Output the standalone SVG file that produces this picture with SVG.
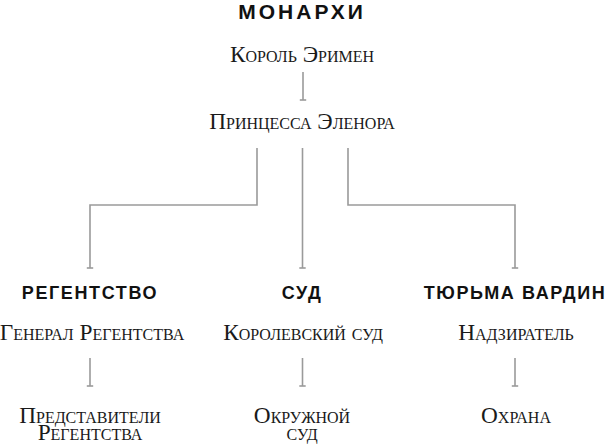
<svg xmlns="http://www.w3.org/2000/svg" width="610" height="445" viewBox="0 0 610 445">
<defs>
<style>
.h{font-family:"Liberation Sans","DejaVu Sans",sans-serif;font-weight:bold;font-size:18px;letter-spacing:1.6px;fill:#111;text-anchor:middle}
.t{font-family:"Liberation Serif","DejaVu Serif",serif;font-size:23.3px;font-variant:small-caps;fill:#1a1a1a;text-anchor:middle}
.c{fill:none;stroke:#9a9a9a;stroke-width:1.6}
</style>
<marker id="tee" viewBox="0 0 10 10" refX="5" refY="5" markerWidth="8" markerHeight="8" markerUnits="userSpaceOnUse" orient="auto">
<line x1="5" y1="1" x2="5" y2="9" stroke="#9a9a9a" stroke-width="2"/>
</marker>
</defs>
<rect width="610" height="445" fill="#fff"/>
<g id="connectors">
<path class="c" d="M303 72 V100" marker-end="url(#tee)"/>
<path class="c" d="M257 148 V205 H90 V268" marker-end="url(#tee)"/>
<path class="c" d="M302.5 148 V268" marker-end="url(#tee)"/>
<path class="c" d="M348 148 V205 H515 V268" marker-end="url(#tee)"/>
<path class="c" d="M90 358 V386" marker-end="url(#tee)"/>
<path class="c" d="M302.5 358 V386" marker-end="url(#tee)"/>
<path class="c" d="M515 358 V386" marker-end="url(#tee)"/>
</g>
<g id="monarchs"><text class="h" x="302" y="19" style="font-size:21px;letter-spacing:3px">МОНАРХИ</text></g>
<g id="king"><text class="t" x="302" y="62">Король Эримен</text></g>
<g id="princess"><text class="t" x="302" y="129">Принцесса Эленора</text></g>
<g id="regency"><text class="h" x="90" y="299">РЕГЕНТСТВО</text></g>
<g id="court"><text class="h" x="302" y="299">СУД</text></g>
<g id="prison"><text class="h" x="515" y="299">ТЮРЬМА ВАРДИН</text></g>
<g id="general"><text class="t" x="92" y="340">Генерал Регентства</text></g>
<g id="royalcourt"><text class="t" x="303" y="340">Королевский суд</text></g>
<g id="warden"><text class="t" x="516" y="340">Надзиратель</text></g>
<g id="reps"><text class="t" x="90" y="423">Представители</text><text class="t" x="90" y="440">Регентства</text></g>
<g id="district"><text class="t" x="302" y="423">Окружной</text><text class="t" x="302" y="440">суд</text></g>
<g id="guard"><text class="t" x="516" y="423">Охрана</text></g>
</svg>
